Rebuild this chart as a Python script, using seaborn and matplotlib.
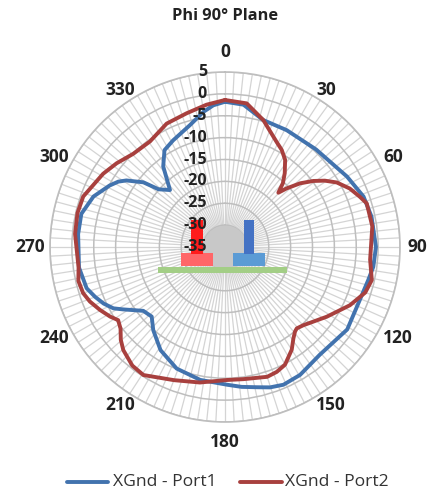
import numpy as np
import pandas as pd
import seaborn as sns
import matplotlib
matplotlib.use("Agg")
import matplotlib.pyplot as plt
from matplotlib.patches import Rectangle

sns.set_theme(style="white")
plt.rcParams['font.family'] = ['Open Sans', 'DejaVu Sans']

title = "Phi 90° Plane"
series_names = ["XGnd - Port1", "XGnd - Port2"]
angle_ticks = [0, 30, 60, 90, 120, 150, 180, 210, 240, 270, 300, 330]
radial_ticks = [5, 0, -5, -10, -15, -20, -25, -30, -35]

port1_angle = [0, 7.4, 16.8, 27.8, 43, 60, 70, 78.3, 90, 97.6, 103, 114.4, 124, 138.7, 149.6, 157, 162.2, 167, 173.2, 179,
               190.6, 201.7, 212, 220.8, 226.5, 232, 238.5, 241.2, 245, 249, 253.4, 262, 275, 283, 291, 298, 301.5, 304, 308.4,
               311, 316, 322.5, 328, 334, 344, 351, 355.3, 360]
port1_db = [-1.8, -2.2, -4.7, -4.8, -4.5, -2.8, -1.3, -0.8, -0.5, -0.8, -1.4, -1.9, -1.3, -2.2, -1.1, -0.8, -1.3, -2.1, -2.8, -3.5,
            -4.1, -5.1, -7.2, -9.9, -11.9, -11.3, -7.7, -5.9, -4.4, -3.2, -2.0, -1.3, -1.3, -1.3, -2.8, -5.1, -6.4, -7.8, -11.2,
            -14.9, -16.9, -11.8, -8.9, -7.9, -6.0, -3.7, -2.5, -1.8]
port2_angle = [0, 8.6, 16.8, 26, 30.3, 34.6, 39, 42.2, 44.5, 46.4, 49.7, 53.2, 56.4, 60, 64.9, 69.6, 72.9, 82, 95, 102.7, 108, 115, 124.4, 135,
               138.6, 140.4, 143.2, 147, 153, 157.5, 162, 172, 179, 190.5, 201, 212.5, 218, 224.6, 228.3, 232, 235.6, 238.8, 243.3, 248, 252, 257,
               262, 275, 283, 289.6, 301, 307.7, 315.4, 324.6, 334.7, 344, 352.6, 360]
port2_db = [-1.4, -1.8, -4.7, -8.2, -9.3, -10.8, -13.3, -15.3, -17.6, -15.6, -12.5, -9.8, -7.6, -5.5, -3.5, -2.1, -1.1, -1.0, -1.7, -0.6, -1.3, -3.5, -6.8, -9.7,
            -10.2, -9.9, -8.9, -7.0, -4.8, -4.1, -3.8, -4.5, -4.6, -3.5, -2.4, -0.3, -0.6, -1.9, -3.1, -4.7, -5.4, -4.3, -3.0, -1.7, -0.9, -0.6,
            -1.2, -0.6, -0.4, -0.6, -2.5, -3.7, -5.1, -5.4, -3.8, -3.2, -2.2, -1.4]

W, H = 442, 493
cx, cy, R = 225, 247, 175
fig = plt.figure(figsize=(W / 100, H / 100), dpi=100, facecolor="white")
ax = fig.add_axes([(cx - R) / W, 1 - (cy + R) / H, 2 * R / W, 2 * R / H], projection="polar")
ax.set_theta_zero_location("N")
ax.set_theta_direction(-1)

df = pd.concat([
    pd.DataFrame({"theta": np.deg2rad(port1_angle), "gain": port1_db, "series": series_names[0]}),
    pd.DataFrame({"theta": np.deg2rad(port2_angle), "gain": port2_db, "series": series_names[1]}),
])
sns.lineplot(data=df, x="theta", y="gain", hue="series", sort=False, estimator=None,
             palette=["#4273AE", "#A8403E"], linewidth=2.8, ax=ax, legend=False, zorder=5,
             solid_joinstyle="round")
ax.set_xlabel("")
ax.set_ylabel("")
ax.set_ylim(-35, 5)

ax.set_xticks(np.deg2rad(np.arange(0, 360, 3)))
ax.set_xticklabels([])
ax.set_yticks(radial_ticks)
ax.set_yticklabels([])
ax.grid(True, axis="x", color="#D4D4D4", linewidth=0.9)
ax.grid(True, axis="y", color="#BEBEBE", linewidth=1.1)
ax.spines["polar"].set_color("#BEBEBE")
ax.spines["polar"].set_linewidth(1.2)
ax.tick_params(length=0)

# the spokes merge into a solid grey disc near the centre
ax.fill_between(np.linspace(0, 2 * np.pi, 181), -35, -30, color="#C8C8C8", lw=0, zorder=1)

# pixel centres of the angle labels around the dial
label_px = {0: (225, 52), 30: (326, 90), 60: (393, 157), 90: (417, 247), 120: (398, 338), 150: (331, 405),
            180: (225, 442), 210: (120, 405), 240: (54, 338), 270: (30, 247), 300: (54, 157), 330: (120, 90)}
for a in angle_ticks:
    px, py = label_px[a]
    fig.text(px / W, 1 - py / H, str(a), ha="center", va="center", fontsize=12.5,
             fontweight="bold", color="#222222")
for v in radial_ticks:
    ax.annotate(str(v), xy=(0, v), xytext=(-13, 0), textcoords="offset points", ha="right", va="center",
                fontsize=11.5, fontweight="bold", color="#222222", zorder=6, annotation_clip=False)

fig.text(cx / W, 1 - 16.5 / H, title, ha="center", va="center", fontsize=11.8, fontweight="bold", color="#222222")


def box(x0, y0, x1, y1, color):
    ax.add_artist(Rectangle((x0 / W, 1 - y1 / H), (x1 - x0) / W, (y1 - y0) / H,
                            transform=fig.transFigure, color=color, lw=0, zorder=4, clip_on=False))


box(158, 267, 287, 273, "#A3CE86")
box(181, 253, 213, 266, "#FF6668")
box(191, 220, 203, 254, "#FF1C1C")
box(233, 253, 265, 266, "#5B9BD5")
box(244, 220, 254, 254, "#4472C4")

for x0, x1, c, name, tx in [(67, 108, "#4273AE", series_names[0], 113), (240, 282, "#A8403E", series_names[1], 285)]:
    fig.add_artist(plt.Line2D([x0 / W, x1 / W], [1 - 482 / H] * 2, color=c, lw=2.8, transform=fig.transFigure))
    fig.text(tx / W, 1 - 482 / H, name, ha="left", va="center", fontsize=12.6, color="#333333")

fig.savefig("out.png", dpi=100)
